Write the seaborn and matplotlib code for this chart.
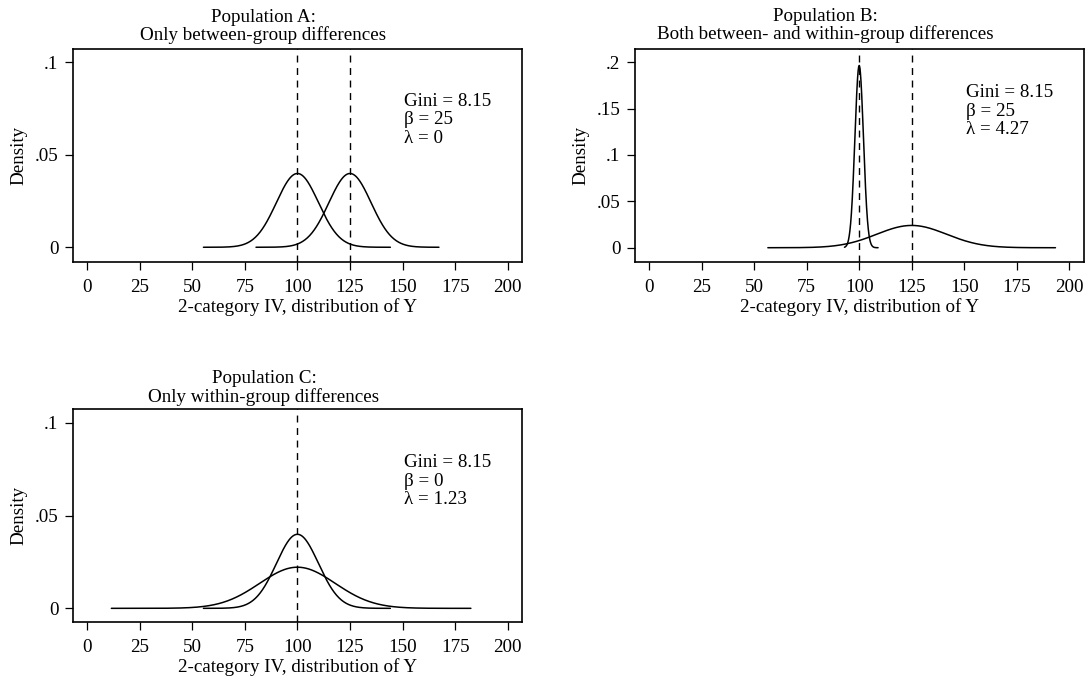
import numpy as np
import pandas as pd
import matplotlib
matplotlib.use("Agg")
import matplotlib.pyplot as plt
import seaborn as sns

# Group density parameters for each population: mean, sd, observed min/max of Y
pop_a_means = [100, 125]
pop_a_sds = [10.0, 10.0]
pop_a_mins = [55.3, 80.3]
pop_a_maxs = [144.2, 167.3]

pop_b_means = [100, 125]
pop_b_sds = [2.03, 16.6]
pop_b_mins = [93.0, 56.5]
pop_b_maxs = [109.0, 193.5]

pop_c_means = [100, 100]
pop_c_sds = [10.0, 18.0]
pop_c_mins = [55.3, 11.5]
pop_c_maxs = [144.2, 182.5]

# Vertical reference lines at group means
pop_a_vlines = [100, 125]
pop_b_vlines = [100, 125]
pop_c_vlines = [100]

title_lines = [
    ["Population A:", "Only between-group differences"],
    ["Population B:", "Both between- and within-group differences"],
    ["Population C:", "Only within-group differences"],
]
stats_lines = [
    ["Gini = 8.15", "β = 25", "λ = 0"],
    ["Gini = 8.15", "β = 25", "λ = 4.27"],
    ["Gini = 8.15", "β = 0", "λ = 1.23"],
]

x_ticks = [0, 25, 50, 75, 100, 125, 150, 175, 200]
y_ticks_a = [0, 0.05, 0.1]
y_labels_a = ["0", ".05", ".1"]
y_ticks_b = [0, 0.05, 0.1, 0.15, 0.2]
y_labels_b = ["0", ".05", ".1", ".15", ".2"]

sns.set_theme(style="white")
plt.rcParams["font.family"] = ["Liberation Serif", "DejaVu Serif"]
plt.rcParams["text.color"] = "black"
plt.rcParams["axes.labelcolor"] = "black"
plt.rcParams["xtick.color"] = "black"
plt.rcParams["ytick.color"] = "black"

FS = 13.7
W, H = 1089, 681
fig = plt.figure(figsize=(W / 100, H / 100), dpi=100)


def frame(left, top, right, bottom):
    return [left / W, 1 - bottom / H, (right - left) / W, (bottom - top) / H]


def density_frame(means, sds, mins, maxs):
    rows = []
    for g, (m, s, lo, hi) in enumerate(zip(means, sds, mins, maxs)):
        xs = np.linspace(lo, hi, 400)
        dens = np.exp(-0.5 * ((xs - m) / s) ** 2) / (s * np.sqrt(2 * np.pi))
        rows.append(pd.DataFrame({"y": xs, "density": dens, "group": g}))
    return pd.concat(rows, ignore_index=True)


panels = [
    dict(box=frame(73.3, 49, 522.4, 261.5), means=pop_a_means, sds=pop_a_sds,
         mins=pop_a_mins, maxs=pop_a_maxs, vlines=pop_a_vlines,
         ylim=(-0.0077, 0.1072), yt=y_ticks_a, yl=y_labels_a,
         title_x=263, title_base=(21.7, 40.0),
         ann_x=404, ann_base=(106, 124.5, 143)),
    dict(box=frame(635.4, 49, 1083.8, 262), means=pop_b_means, sds=pop_b_sds,
         mins=pop_b_mins, maxs=pop_b_maxs, vlines=pop_b_vlines,
         ylim=(-0.0154, 0.2143), yt=y_ticks_b, yl=y_labels_b,
         title_x=825, title_base=(20.7, 39.3),
         ann_x=966, ann_base=(96.7, 115.5, 134.5)),
    dict(box=frame(73.3, 409, 522.4, 621.7), means=pop_c_means, sds=pop_c_sds,
         mins=pop_c_mins, maxs=pop_c_maxs, vlines=pop_c_vlines,
         ylim=(-0.0072, 0.1074), yt=y_ticks_a, yl=y_labels_a,
         title_x=264, title_base=(382.7, 401.5),
         ann_x=404, ann_base=(466.7, 485.5, 504)),
]

for i, p in enumerate(panels):
    ax = fig.add_axes(p["box"])
    df = density_frame(p["means"], p["sds"], p["mins"], p["maxs"])
    sns.lineplot(data=df, x="y", y="density", units="group", estimator=None,
                 color="black", linewidth=1.1, ax=ax, legend=False)
    for v in p["vlines"]:
        ax.axvline(v, color="black", linestyle=(0, (5, 4)), linewidth=1.0)
    ax.set_xlim(-6.6, 207.0)
    ax.set_ylim(*p["ylim"])
    ax.set_xticks(x_ticks)
    ax.set_xticklabels([str(t) for t in x_ticks], fontsize=FS)
    ax.set_yticks(p["yt"])
    ax.set_yticklabels(p["yl"], fontsize=FS)
    ax.tick_params(axis="both", direction="out", length=5.8, width=0.9,
                   color="black", bottom=True, left=True)
    ax.tick_params(axis="x", pad=6.5)
    ax.tick_params(axis="y", pad=5)
    for sp in ax.spines.values():
        sp.set_visible(True)
        sp.set_color("black")
        sp.set_linewidth(1.2)
    ax.set_xlabel("2-category IV, distribution of Y", fontsize=FS, labelpad=1.5)
    ax.set_ylabel("Density", fontsize=FS, labelpad=5)
    for line, yb in zip(stats_lines[i], p["ann_base"]):
        fig.text(p["ann_x"] / W, 1 - yb / H, line, fontsize=FS,
                 ha="left", va="baseline")
    for line, yb in zip(title_lines[i], p["title_base"]):
        fig.text(p["title_x"] / W, 1 - yb / H, line, fontsize=FS,
                 ha="center", va="baseline")

fig.savefig("out.png", dpi=100, facecolor="white")
